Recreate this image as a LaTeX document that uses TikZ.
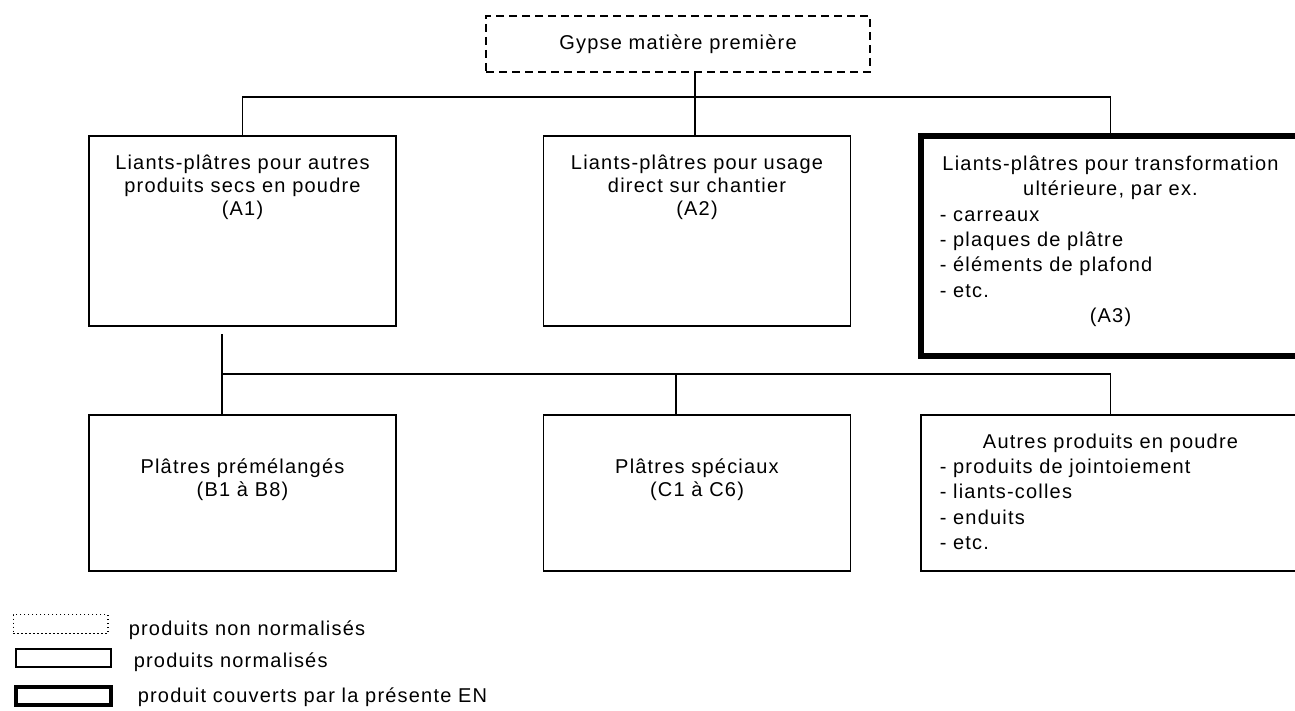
\documentclass[tikz,border=0pt]{standalone}
\usepackage{fontspec}
\setmainfont{Liberation Sans}[LetterSpace=6]
\usetikzlibrary{positioning}

\begin{document}
\begin{tikzpicture}[x=0.75pt,y=-0.75pt,line width=1.2pt,
    every node/.style={font=\fontsize{15pt}{17.25pt}\selectfont}]
    \tikzstyle{produit}=[rectangle,draw,minimum width=230.5pt,inner sep=0pt]
    \tikzstyle{couvert}=[produit,line width=4.5pt,minimum width=284.25pt]
    \tikzstyle{brut}=[rectangle,draw,dash pattern=on 6pt off 3.75pt,minimum width=288pt,minimum height=42pt]
    \tikzstyle{texte}=[inner sep=0pt,align=center]
    \tikzstyle{liste}=[inner sep=0pt,align=left,text width=256pt,font=\fontsize{15pt}{19pt}\selectfont]
    \tikzstyle{cle}=[rectangle,draw,minimum width=71pt,minimum height=14pt,inner sep=0pt]

    \useasboundingbox (0,0) rectangle (1295,710);

    % raw material
    \node[brut] (gypse) at (678,44) {Gypse matière première};

    % first level boxes
    \node[produit,minimum height=142.5pt] (a1) at (242.5,231) {};
    \node[produit,minimum height=142.5pt] (a2) at (697,231) {};
    \node[couvert,minimum height=165pt] (a3) at (1110.5,245.5) {};

    % second level boxes
    \node[produit,minimum height=117pt] (b1) at (242.5,493) {};
    \node[produit,minimum height=117pt] (c1) at (697,493) {};
    \node[produit,minimum width=284.25pt,minimum height=117pt] (d1) at (1110.5,493) {};

    % texts of the boxes
    \node[texte,below=14pt of a1.north] (a1t) {Liants-plâtres pour autres\\produits secs en poudre\\(A1)};
    \node[texte,below=14pt of a2.north] (a2t) {Liants-plâtres pour usage\\direct sur chantier\\(A2)};
    \node[liste,below=17pt of a3.north] (a3t) {\makebox[\linewidth]{Liants-plâtres pour transformation}\\
        \makebox[\linewidth]{ultérieure, par ex.}\\- carreaux\\- plaques de plâtre\\- éléments de plafond\\- etc.\\
        \makebox[\linewidth]{(A3)}};
    \node[texte,below=33pt of b1.north] (b1t) {Plâtres prémélangés\\(B1 à B8)};
    \node[texte,below=33pt of c1.north] (c1t) {Plâtres spéciaux\\(C1 à C6)};
    \node[liste,below=14pt of d1.north] (d1t) {\makebox[\linewidth]{Autres produits en poudre}\\
        - produits de jointoiement\\- liants-colles\\- enduits\\- etc.};

    % connections
    \coordinate (j0) at (695,97);
    \draw (gypse.south -| j0) -- (a2.north -| j0);
    \draw (a1.north) |- (j0) -| (a3.north);
    \coordinate (j1) at (222,334);
    \coordinate (j2) at (222,374);
    \coordinate (j3) at (676,374);
    \draw (j1) -- (b1.north -| j1);
    \draw (j2) -| (d1.north);
    \draw (j3) -- (c1.north -| j3);

    % legend
    \node[cle,dotted,line width=1pt] (cle1) at (60.5,624) {};
    \node[cle,line width=1.5pt] (cle2) at (63.5,658) {};
    \node[cle,line width=3pt] (cle3) at (63.5,696) {};
    \node[anchor=base west,inner sep=0pt] (cle1t) at (128,635) {produits non normalisés};
    \node[anchor=base west,inner sep=0pt] (cle2t) at (133,667) {produits normalisés};
    \node[anchor=base west,inner sep=0pt] (cle3t) at (137,702) {produit couverts par la présente EN};
\end{tikzpicture}
\end{document}
